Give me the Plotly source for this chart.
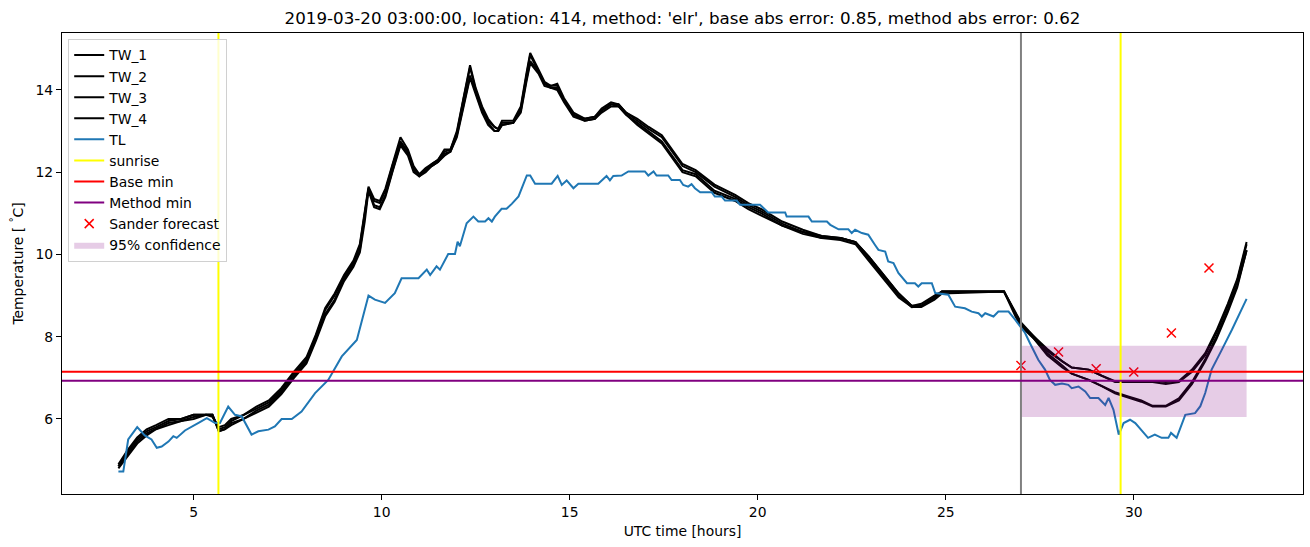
import plotly.graph_objects as go

# ---------------- data ----------------
tw_hours = [3.0, 3.25, 3.5, 3.75, 4.0, 4.33, 4.67, 5.0, 5.33, 5.5,
            5.67, 5.83, 6.0, 6.33, 6.67, 7.0, 7.33, 7.67, 8.0, 8.25,
            8.5, 8.75, 9.0, 9.25, 9.42, 9.55, 9.65, 9.8, 9.95, 10.1,
            10.3, 10.5, 10.7, 10.85, 11.0, 11.17, 11.33, 11.5, 11.67, 11.83,
            12.0, 12.17, 12.35, 12.5, 12.67, 12.83, 13.0, 13.1, 13.2, 13.5,
            13.7, 13.85, 13.95, 14.17, 14.33, 14.5, 14.67, 14.85, 15.1, 15.4,
            15.67, 15.85, 16.1, 16.3, 16.5, 16.8, 17.1, 17.45, 18.0, 18.35,
            18.85, 19.4, 19.75, 20.1, 20.65, 21.2, 21.7, 22.2, 22.6, 22.95,
            23.4, 23.75, 24.1, 24.35, 24.7, 24.9, 26.55, 26.85, 27.0, 27.35,
            27.7, 28.1, 28.35, 28.8, 29.15, 29.5, 29.85, 30.2, 30.5, 30.85,
            31.2, 31.55, 31.9, 32.2, 32.5, 32.75, 33.0]

tw_1 = [4.90, 5.25, 5.55, 5.75, 5.85, 6.00, 6.00, 6.10, 6.10, 6.05,
        5.80, 5.85, 6.00, 6.10, 6.30, 6.45, 6.75, 7.15, 7.50, 8.05,
        8.70, 9.05, 9.50, 9.85, 10.25, 11.10, 11.65, 11.35, 11.30, 11.60,
        12.25, 12.85, 12.55, 12.15, 11.95, 12.10, 12.20, 12.30, 12.55, 12.55,
        13.00, 13.80, 14.60, 14.05, 13.60, 13.30, 13.10, 13.05, 13.25, 13.25,
        13.60, 14.40, 14.90, 14.50, 14.20, 14.10, 14.15, 13.80, 13.45, 13.30,
        13.35, 13.55, 13.70, 13.65, 13.45, 13.30, 13.10, 12.90, 12.20, 12.05,
        11.70, 11.45, 11.25, 11.10, 10.80, 10.60, 10.45, 10.40, 10.30, 9.95,
        9.45, 9.05, 8.75, 8.80, 9.00, 9.10, 9.10, 8.60, 8.35, 8.00,
        7.70, 7.40, 7.25, 7.20, 7.05, 6.92, 6.92, 6.92, 6.92, 6.90,
        6.92, 7.20, 7.60, 8.15, 8.80, 9.40, 10.30]

tw_2 = [4.85, 5.20, 5.50, 5.70, 5.80, 5.95, 6.00, 6.10, 6.10, 6.10,
        5.75, 5.80, 5.95, 6.10, 6.25, 6.40, 6.70, 7.10, 7.45, 8.00,
        8.65, 9.00, 9.45, 9.80, 10.20, 11.00, 11.60, 11.30, 11.25, 11.55,
        12.20, 12.75, 12.50, 12.10, 11.95, 12.05, 12.20, 12.30, 12.50, 12.55,
        12.95, 13.75, 14.55, 14.00, 13.55, 13.25, 13.10, 13.05, 13.20, 13.20,
        13.55, 14.35, 14.85, 14.45, 14.15, 14.10, 14.10, 13.75, 13.40, 13.30,
        13.35, 13.50, 13.65, 13.65, 13.45, 13.25, 13.05, 12.85, 12.15, 12.00,
        11.65, 11.40, 11.20, 11.05, 10.75, 10.55, 10.45, 10.40, 10.30, 9.95,
        9.45, 9.05, 8.75, 8.75, 8.95, 9.10, 9.10, 8.55, 8.30, 8.00,
        7.65, 7.40, 7.25, 7.20, 7.05, 6.90, 6.90, 6.90, 6.90, 6.85,
        6.90, 7.15, 7.55, 8.10, 8.75, 9.35, 10.25]

tw_3 = [4.85, 5.15, 5.45, 5.65, 5.75, 5.90, 5.95, 6.05, 6.10, 6.10,
        5.70, 5.75, 5.90, 6.00, 6.20, 6.35, 6.65, 7.05, 7.40, 7.95,
        8.55, 8.90, 9.40, 9.75, 10.10, 10.90, 11.60, 11.20, 11.15, 11.45,
        12.10, 12.70, 12.45, 12.05, 11.90, 12.05, 12.15, 12.25, 12.45, 12.50,
        12.90, 13.60, 14.35, 13.95, 13.50, 13.20, 13.00, 13.00, 13.15, 13.20,
        13.50, 14.25, 14.70, 14.45, 14.15, 14.05, 14.05, 13.75, 13.40, 13.25,
        13.30, 13.50, 13.65, 13.60, 13.40, 13.20, 13.00, 12.75, 12.05, 11.95,
        11.55, 11.35, 11.15, 11.00, 10.70, 10.55, 10.40, 10.40, 10.30, 9.90,
        9.40, 9.00, 8.72, 8.75, 8.95, 9.10, 9.10, 8.55, 8.30, 7.95,
        7.60, 7.30, 7.10, 6.95, 6.80, 6.65, 6.55, 6.45, 6.32, 6.32,
        6.50, 6.90, 7.45, 8.00, 8.65, 9.25, 10.10]

tw_4 = [4.80, 5.10, 5.40, 5.60, 5.75, 5.85, 5.95, 6.00, 6.10, 6.10,
        5.70, 5.75, 5.85, 6.00, 6.15, 6.30, 6.60, 7.00, 7.35, 7.90,
        8.50, 8.85, 9.35, 9.70, 10.05, 10.80, 11.55, 11.15, 11.10, 11.40,
        12.05, 12.65, 12.40, 12.00, 11.90, 12.00, 12.15, 12.25, 12.40, 12.50,
        12.85, 13.55, 14.30, 13.90, 13.45, 13.15, 13.00, 13.00, 13.15, 13.20,
        13.45, 14.20, 14.65, 14.40, 14.10, 14.05, 14.00, 13.70, 13.35, 13.25,
        13.30, 13.45, 13.60, 13.60, 13.40, 13.15, 12.95, 12.70, 12.00, 11.90,
        11.50, 11.30, 11.10, 10.95, 10.70, 10.50, 10.40, 10.35, 10.25, 9.85,
        9.35, 8.95, 8.72, 8.72, 8.90, 9.05, 9.10, 8.50, 8.25, 7.95,
        7.55, 7.25, 7.10, 6.95, 6.80, 6.62, 6.52, 6.42, 6.30, 6.30,
        6.45, 6.85, 7.40, 7.95, 8.60, 9.20, 10.10]

tl_hours = [3.0, 3.13, 3.26, 3.5, 3.7, 3.88, 4.02, 4.15, 4.33, 4.46,
            4.55, 4.77, 5.12, 5.35, 5.57, 5.7, 5.92, 6.1, 6.28, 6.54,
            6.72, 6.99, 7.16, 7.34, 7.61, 7.87, 8.23, 8.58, 8.94, 9.34,
            9.65, 9.82, 10.09, 10.35, 10.53, 10.98, 11.2, 11.29, 11.46, 11.55,
            11.77, 11.95, 12.02, 12.08, 12.26, 12.44, 12.57, 12.75, 12.84, 12.93,
            13.01, 13.19, 13.32, 13.46, 13.64, 13.86, 13.95, 14.08, 14.52, 14.68,
            14.79, 14.92, 15.1, 15.23, 15.76, 15.85, 15.98, 16.07, 16.16, 16.38,
            16.56, 17.0, 17.09, 17.23, 17.31, 17.62, 17.71, 17.93, 18.02, 18.15,
            18.24, 18.33, 18.47, 18.78, 18.86, 19.04, 19.13, 19.44, 19.53, 20.06,
            20.28, 20.73, 20.77, 21.35, 21.44, 21.84, 21.93, 22.15, 22.41, 22.5,
            22.59, 22.77, 22.94, 23.12, 23.21, 23.39, 23.47, 23.61, 23.74, 23.97,
            24.18, 24.27, 24.36, 24.63, 24.72, 25.07, 25.25, 25.51, 25.69, 25.87,
            25.96, 26.05, 26.27, 26.4, 26.67, 26.85, 26.98, 27.11, 27.24, 27.46,
            27.64, 27.77, 27.91, 28.09, 28.26, 28.35, 28.53, 28.71, 28.84, 29.06,
            29.24, 29.33, 29.46, 29.6, 29.73, 29.9, 30.04, 30.2, 30.38, 30.56,
            30.74, 30.92, 30.99, 31.14, 31.37, 31.63, 31.77, 31.9, 32.07, 32.34,
            32.61, 33.0]

tl = [4.72, 4.72, 5.50, 5.80, 5.60, 5.50, 5.30, 5.33, 5.45, 5.58,
      5.54, 5.72, 5.90, 6.02, 5.90, 5.90, 6.30, 6.10, 6.06, 5.62,
      5.70, 5.74, 5.82, 6.00, 6.00, 6.18, 6.63, 6.95, 7.52, 7.92,
      9.00, 8.90, 8.82, 9.06, 9.42, 9.42, 9.63, 9.50, 9.71, 9.63,
      10.01, 10.01, 10.31, 10.20, 10.76, 10.92, 10.80, 10.80, 10.88, 10.80,
      10.92, 11.11, 11.11, 11.23, 11.41, 11.92, 11.92, 11.72, 11.72, 11.91,
      11.69, 11.80, 11.61, 11.72, 11.72, 11.80, 11.91, 11.80, 11.91, 11.92,
      12.02, 12.02, 11.92, 12.02, 11.92, 11.92, 11.81, 11.81, 11.69, 11.65,
      11.71, 11.61, 11.51, 11.51, 11.41, 11.41, 11.31, 11.31, 11.21, 11.21,
      11.02, 11.02, 10.92, 10.92, 10.80, 10.80, 10.72, 10.61, 10.61, 10.52,
      10.60, 10.52, 10.48, 10.23, 10.11, 10.07, 9.83, 9.79, 9.55, 9.30,
      9.30, 9.22, 9.30, 9.30, 9.06, 9.02, 8.73, 8.69, 8.61, 8.57,
      8.49, 8.57, 8.49, 8.61, 8.61, 8.41, 8.25, 8.09, 7.84, 7.44,
      7.20, 6.95, 6.83, 6.86, 6.83, 6.75, 6.79, 6.67, 6.51, 6.51,
      6.34, 6.51, 6.22, 5.62, 5.90, 5.98, 5.90, 5.74, 5.54, 5.62,
      5.54, 5.54, 5.66, 5.54, 6.10, 6.14, 6.31, 6.63, 7.20, 7.68,
      8.17, 8.92]

sunrise_hours = [5.66, 29.65]
forecast_start = 27.0
base_min = 7.15
method_min = 6.93
sander_hours = [27, 28, 29, 30, 31, 32]
sander_vals = [7.30, 7.63, 7.22, 7.14, 8.09, 9.67]
conf_hours = [27.0, 33.0]
conf_bounds = [6.05, 7.78]

x_ticks = [5, 10, 15, 20, 25, 30]
y_ticks = [6, 8, 10, 12, 14]

title = ("2019-03-20 03:00:00, location: 414, method: 'elr', "
         "base abs error: 0.85, method abs error: 0.62")

# ---------------- figure ----------------
FONT = "DejaVu Sans"
fig = go.Figure()

for name, vals in [("TW_1", tw_1), ("TW_2", tw_2), ("TW_3", tw_3), ("TW_4", tw_4)]:
    fig.add_trace(go.Scatter(x=tw_hours, y=vals, mode="lines", name=name,
                             line=dict(color="black", width=2)))

fig.add_trace(go.Scatter(x=tl_hours, y=tl, mode="lines", name="TL",
                         line=dict(color="#1f77b4", width=2)))

# legend entries for reference lines (drawn as shapes)
for name, col in [("sunrise", "yellow"), ("Base min", "red"), ("Method min", "purple")]:
    fig.add_trace(go.Scatter(x=[None], y=[None], mode="lines", name=name,
                             line=dict(color=col, width=2)))

fig.add_trace(go.Scatter(x=sander_hours, y=sander_vals, mode="markers",
                         name="Sander forecast",
                         marker=dict(symbol="x-thin", size=9, color="red",
                                     line=dict(color="red", width=1.5))))

c0, c1 = conf_hours
lo, hi = conf_bounds
fig.add_trace(go.Scatter(x=[c0, c1, c1, c0, c0], y=[lo, lo, hi, hi, lo],
                         mode="lines", fill="toself", name="95% confidence",
                         fillcolor="rgba(128,0,128,0.2)",
                         line=dict(width=0, color="rgba(128,0,128,0.2)")))

shapes = []
for h in sunrise_hours:
    shapes.append(dict(type="line", xref="x", yref="paper", x0=h, x1=h, y0=0, y1=1,
                       line=dict(color="yellow", width=2), layer="above"))
shapes.append(dict(type="line", xref="x", yref="paper", x0=forecast_start, x1=forecast_start,
                   y0=0, y1=1, line=dict(color="gray", width=2), layer="above"))
shapes.append(dict(type="line", xref="paper", yref="y", x0=0, x1=1, y0=base_min, y1=base_min,
                   line=dict(color="red", width=2), layer="above"))
shapes.append(dict(type="line", xref="paper", yref="y", x0=0, x1=1, y0=method_min, y1=method_min,
                   line=dict(color="purple", width=2), layer="above"))

fig.update_layout(
    width=1310, height=547,
    margin=dict(l=62, r=7, t=33, b=53),
    paper_bgcolor="white", plot_bgcolor="white",
    font=dict(family=FONT, size=13.9, color="black"),
    title=dict(text=title, x=0.5, xref="paper", xanchor="center",
               y=1 - 18 / 547, yref="container", yanchor="middle",
               font=dict(family=FONT, size=16.7, color="black")),
    shapes=shapes,
    showlegend=True,
    legend=dict(x=0.005, y=0.988, xanchor="left", yanchor="top",
                bgcolor="rgba(255,255,255,0.8)", bordercolor="#d0d0d0", borderwidth=1,
                font=dict(family=FONT, size=13.9), tracegroupgap=0,
                itemwidth=30),
)

fig.update_xaxes(range=[1.5, 34.5], tickvals=x_ticks, showgrid=False, zeroline=False,
                 showline=True, mirror=True, linecolor="black", linewidth=1.1,
                 ticks="outside", ticklen=5, tickwidth=1.1, tickcolor="black",
                 title=dict(text="UTC time [hours]", standoff=7,
                            font=dict(family=FONT, size=13.9)))
fig.update_yaxes(range=[4.175, 15.385], tickvals=y_ticks, showgrid=False, zeroline=False,
                 showline=True, mirror=True, linecolor="black", linewidth=1.1,
                 ticks="outside", ticklen=5, tickwidth=1.1, tickcolor="black",
                 title=dict(text="Temperature [ <sup>°</sup>C]", standoff=8,
                            font=dict(family=FONT, size=13.9)))

fig.write_html("out.html")
